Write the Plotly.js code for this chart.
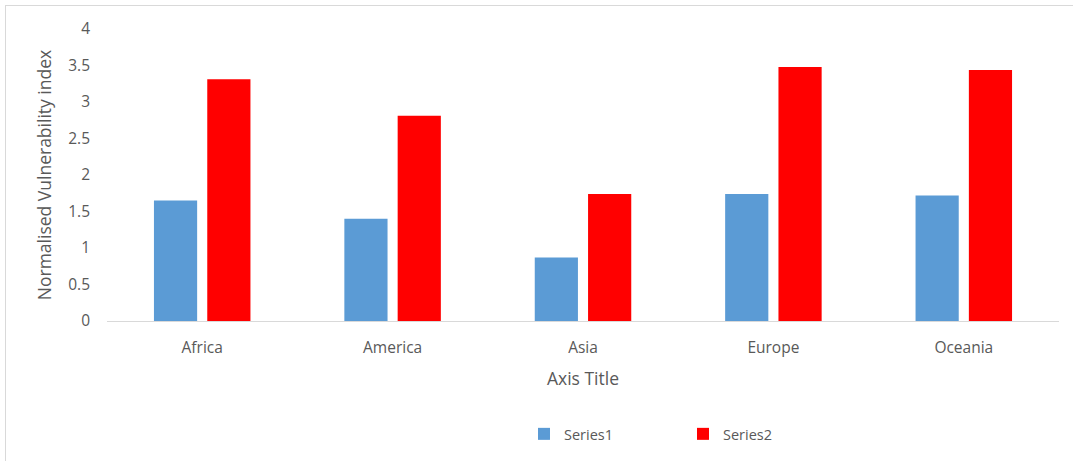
<!DOCTYPE html>
<html>
<head>
<meta charset="utf-8">
<script src="https://cdn.plot.ly/plotly-3.0.1.min.js"></script>
<style>
  html, body { margin: 0; padding: 0; background: #fff; }
  #wrap { position: relative; width: 1073px; height: 461px; }
  #chart { width: 1073px; height: 461px; }
  #frame { position: absolute; left: 5px; top: 5px; width: 1068px; height: 456px;
           border-top: 1px solid #d9d9d9; border-left: 1px solid #d9d9d9; pointer-events: none; }
</style>
</head>
<body>
<div id="wrap">
  <div id="chart"></div>
  <div id="frame"></div>
</div>
<script>
const categories = ["Africa", "America", "Asia", "Europe", "Oceania"];
const series1 = [1.65, 1.40, 0.87, 1.74, 1.72];
const series2 = [3.31, 2.81, 1.74, 3.48, 3.44];
const seriesNames = ["Series1", "Series2"];
const yTicks = [0, 0.5, 1, 1.5, 2, 2.5, 3, 3.5, 4];

const fontFam = "Open Sans, Liberation Sans, sans-serif";
const txt = "#595959";

const data = [
  { type: "bar", name: seriesNames[0], x: categories, y: series1,
    marker: { color: "#5b9bd5" }, hoverinfo: "x+y" },
  { type: "bar", name: seriesNames[1], x: categories, y: series2,
    marker: { color: "#ff0000" }, hoverinfo: "x+y" }
];

const layout = {
  width: 1073, height: 461,
  margin: { l: 107, r: 14, t: 29, b: 139 },
  paper_bgcolor: "#fff", plot_bgcolor: "#fff",
  font: { family: fontFam, size: 15, color: txt },
  barmode: "group",
  bargap: 0.44,
  bargroupgap: 0.19,
  showlegend: true,
  legend: {
    orientation: "h", x: 0.438, xanchor: "left", y: -0.382, yanchor: "middle",
    entrywidth: 114, entrywidthmode: "pixels",
    font: { family: fontFam, size: 14.5, color: txt },
    itemclick: false
  },
  xaxis: {
    type: "category",
    showgrid: false, zeroline: false,
    showline: true, linecolor: "#d9d9d9", linewidth: 1,
    ticks: "", ticklabelstandoff: 12,
    tickfont: { family: fontFam, size: 15.5, color: txt },
    title: { text: "Axis Title", font: { family: fontFam, size: 17.5, color: txt }, standoff: 16 }
  },
  yaxis: {
    range: [0, 4], tickvals: yTicks, ticktext: yTicks.map(String),
    showgrid: false, zeroline: false, showline: false,
    ticks: "", ticklabelstandoff: 16,
    tickfont: { family: fontFam, size: 15.5, color: txt },
    title: { text: "Normalised Vulnerability index", font: { family: fontFam, size: 17.5, color: txt }, standoff: 12 }
  }
};

Plotly.newPlot("chart", data, layout, { displayModeBar: false, staticPlot: false });
</script>
</body>
</html>
